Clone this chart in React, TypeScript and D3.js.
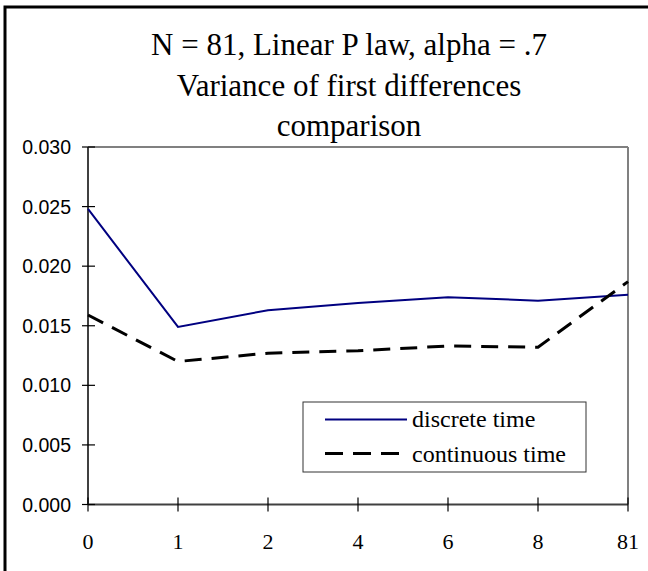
import * as d3 from 'd3';

const categories = ['0', '1', '2', '4', '6', '8', '81'];
const discreteTime = [0.0248, 0.0149, 0.0163, 0.0169, 0.0174, 0.0171, 0.0176];
const continuousTime = [0.0159, 0.0120, 0.0127, 0.0129, 0.0133, 0.0132, 0.0187];
const yTicks = [0, 0.005, 0.01, 0.015, 0.02, 0.025, 0.03];
const titleLines = ['N = 81, Linear P law, alpha = .7', 'Variance of first differences', 'comparison'];

const width = 648;
const height = 571;
const margins = { top: 147, right: 20, bottom: 66.5, left: 88 };

const serif = "'Times New Roman', 'Liberation Serif', serif";
const sans = "Arial, 'Liberation Sans', sans-serif";

const App = () => {
  const xScale = d3
    .scalePoint<string>()
    .domain(categories)
    .range([margins.left, width - margins.right]);
  const yScale = d3
    .scaleLinear()
    .domain([0, 0.03])
    .range([height - margins.bottom, margins.top]);

  const line = d3
    .line<number>()
    .x((_, i) => xScale(categories[i]) || 0)
    .y(d => yScale(d));

  const x0 = margins.left;
  const x1 = width - margins.right;
  const y0 = yScale(0);
  const y1 = yScale(0.03);

  return (
    <svg
      width={width}
      height={height}
      viewBox={`0 0 ${width} ${height}`}
      style={{ position: 'absolute', left: 0, top: 0, background: '#fff' }}
    >
      <rect x={0} y={0} width={width} height={height} fill="#fff" />
      {/* outer chart frame, cut off on the right and bottom */}
      <rect x={5} y={7} width={700} height={600} fill="none" stroke="#000" strokeWidth={3} />

      {titleLines.map((t, i) => (
        <text
          key={i}
          x={349}
          y={55 + i * 40.5}
          textAnchor="middle"
          fontFamily={serif}
          fontSize={31}
          fill="#000"
        >
          {t}
        </text>
      ))}

      {/* plot area */}
      <line x1={x0} y1={y1} x2={x1} y2={y1} stroke="#808080" strokeWidth={2} />
      <line x1={x1} y1={y1} x2={x1} y2={y0} stroke="#808080" strokeWidth={2} />
      <line x1={x0} y1={y1} x2={x0} y2={y0} stroke="#404040" strokeWidth={2} />
      <line x1={x0} y1={y0} x2={x1} y2={y0} stroke="#404040" strokeWidth={2} />

      {yTicks.map(t => (
        <g key={t}>
          <line x1={x0 - 6} x2={x0 + 7} y1={yScale(t)} y2={yScale(t)} stroke="#000" strokeWidth={1.2} />
          <text
            x={71}
            y={yScale(t)}
            dy="0.36em"
            textAnchor="end"
            fontFamily={sans}
            fontSize={19.5}
            fill="#000"
          >
            {d3.format('.3f')(t)}
          </text>
        </g>
      ))}

      {categories.map(c => (
        <g key={c}>
          <line x1={xScale(c)} x2={xScale(c)} y1={y0 - 7} y2={y0 + 7} stroke="#000" strokeWidth={1.2} />
          <text
            x={xScale(c)}
            y={549}
            textAnchor="middle"
            fontFamily={serif}
            fontSize={22}
            fill="#000"
          >
            {c}
          </text>
        </g>
      ))}

      <path d={line(discreteTime) || ''} fill="none" stroke="#000080" strokeWidth={2} />
      <path
        d={line(continuousTime) || ''}
        fill="none"
        stroke="#000"
        strokeWidth={3}
        strokeDasharray="17 10"
      />

      {/* legend */}
      <rect x={303} y={402} width={283} height={70} fill="#fff" stroke="#333" strokeWidth={1} />
      <line x1={325} x2={407} y1={419.5} y2={419.5} stroke="#000080" strokeWidth={2} />
      <text x={412} y={427} fontFamily={serif} fontSize={24} fill="#000">
        discrete time
      </text>
      <line
        x1={325}
        x2={400}
        y1={453.5}
        y2={453.5}
        stroke="#000"
        strokeWidth={3}
        strokeDasharray="18 10"
      />
      <text x={412} y={461.5} fontFamily={serif} fontSize={24} fill="#000">
        continuous time
      </text>
    </svg>
  );
};

export default App;
